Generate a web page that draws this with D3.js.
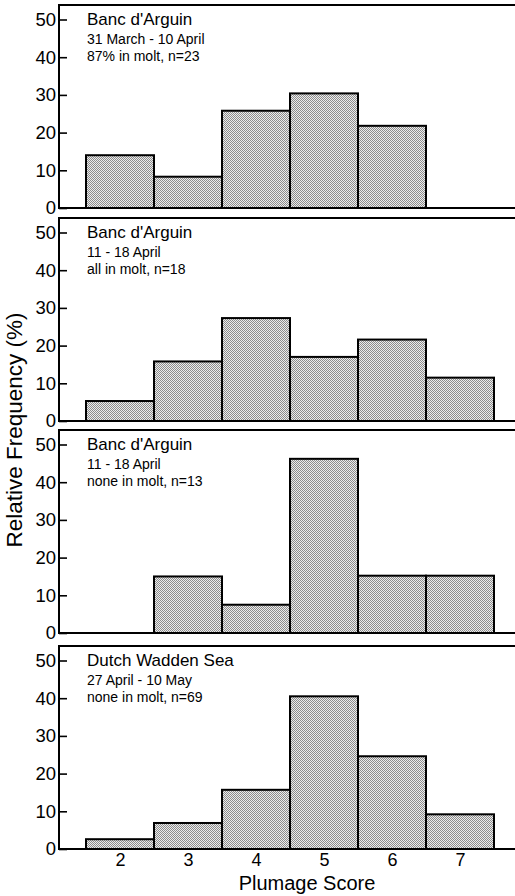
<!DOCTYPE html>
<html>
<head>
<meta charset="utf-8">
<script src="https://cdn.jsdelivr.net/npm/d3@7"></script>
<style>
  html, body { margin: 0; padding: 0; background: #fff; }
  svg { display: block; font-family: "Liberation Sans", Arial, Helvetica, sans-serif; }
</style>
</head>
<body>
<svg id="chart" width="515" height="896"></svg>
<script>
// ---- data ----
const scores = [2, 3, 4, 5, 6, 7];
const yTicks = [0, 10, 20, 30, 40, 50];
const panelTitles = ["Banc d'Arguin", "Banc d'Arguin", "Banc d'Arguin", "Dutch Wadden Sea"];
const panelDates = ["31 March - 10 April", "11 - 18 April", "11 - 18 April", "27 April - 10 May"];
const panelNotes = ["87% in molt, n=23", "all in molt, n=18", "none in molt, n=13", "none in molt, n=69"];
// relative frequency (%) per plumage score; null = no bar
const freqArguinEarly = [14, 8.3, 25.8, 30.4, 21.8, null];
const freqArguinMolt = [5.3, 15.8, 27.3, 17, 21.6, 11.5];
const freqArguinNoMolt = [null, 15, 7.5, 46.2, 15.2, 15.2];
const freqWadden = [2.6, 6.9, 15.7, 40.5, 24.6, 9.2];
const panelSeries = [freqArguinEarly, freqArguinMolt, freqArguinNoMolt, freqWadden];
const xLabel = "Plumage Score";
const yLabel = "Relative Frequency (%)";

// ---- layout ----
const svg = d3.select("#chart");
const W = 515;
const axisX = 59;
const zeros = [208, 421, 633, 849];
const plotH = 188.5;   // 0..50
const frameExtra = 14.5;

const defs = svg.append("defs");
const pat = defs.append("pattern").attr("id", "dots").attr("patternUnits", "userSpaceOnUse")
  .attr("width", 2).attr("height", 2);
pat.append("rect").attr("width", 2).attr("height", 2).attr("fill", "#ececec");
pat.append("rect").attr("x", 0).attr("y", 0).attr("width", 1).attr("height", 1).attr("fill", "#8c8c8c");
pat.append("rect").attr("x", 1).attr("y", 1).attr("width", 1).attr("height", 1).attr("fill", "#8c8c8c");

const x = d3.scaleLinear().domain([1.5, 7.5]).range([86, 494]);

panelSeries.forEach((series, i) => {
  const z = zeros[i];
  const y = d3.scaleLinear().domain([0, 50]).range([z, z - plotH]);
  const top = y(50) - frameExtra;
  const g = svg.append("g");

  // bars
  const rows = scores.map((s, k) => ({ s, v: series[k] })).filter(d => d.v != null);
  g.selectAll("rect.bar").data(rows).enter().append("rect")
    .attr("class", "bar")
    .attr("x", d => x(d.s - 0.5))
    .attr("width", d => x(d.s + 0.5) - x(d.s - 0.5))
    .attr("y", d => y(d.v))
    .attr("height", d => y(0) - y(d.v))
    .attr("fill", "url(#dots)")
    .attr("stroke", "#000")
    .attr("stroke-width", 2);

  // frame: top, left, bottom
  g.append("path")
    .attr("d", `M${W},${top}H${axisX}V${z}H${W}`)
    .attr("fill", "none").attr("stroke", "#000").attr("stroke-width", 2);

  // y axis
  const ya = g.append("g").attr("transform", `translate(${axisX},0)`)
    .call(d3.axisLeft(y).tickValues(yTicks).tickSize(-8).tickPadding(3).tickFormat(d3.format("d")));
  ya.select(".domain").remove();
  ya.selectAll(".tick line").attr("stroke", "#000").attr("stroke-width", 1.6);
  ya.selectAll(".tick text").attr("font-size", 18.5).attr("fill", "#000")
    .attr("font-family", "'Liberation Sans', Arial, sans-serif");

  // panel text
  g.append("text").attr("x", 87).attr("y", top + 19.5).attr("font-size", 17).text(panelTitles[i]);
  g.append("text").attr("x", 87).attr("y", top + 38.5).attr("font-size", 14).text(panelDates[i]);
  g.append("text").attr("x", 87).attr("y", top + 55.5).attr("font-size", 14).text(panelNotes[i]);

  if (i === panelSeries.length - 1) {
    const xa = g.append("g").attr("transform", `translate(0,${z})`)
      .call(d3.axisBottom(x).tickValues(scores).tickSize(0).tickPadding(4).tickFormat(d3.format("d")));
    xa.select(".domain").remove();
    xa.selectAll(".tick text").attr("font-size", 18).attr("fill", "#000")
      .attr("font-family", "'Liberation Sans', Arial, sans-serif");
  }
});

svg.append("text").attr("x", x(4.75)).attr("y", 890).attr("text-anchor", "middle")
  .attr("font-size", 20).text(xLabel);

svg.append("text").attr("transform", "translate(22,430) rotate(-90)")
  .attr("text-anchor", "middle").attr("font-size", 22.5).text(yLabel);
</script>
</body>
</html>
